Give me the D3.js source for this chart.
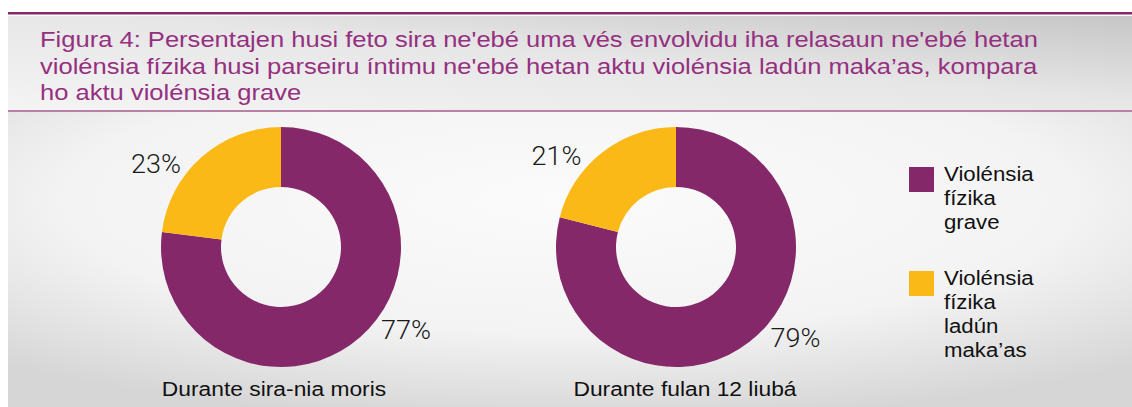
<!DOCTYPE html>
<html>
<head>
<meta charset="utf-8">
<script src="https://cdn.jsdelivr.net/npm/d3@7"></script>
<style>
  body { margin: 0; background: #fff; }
  svg { display: block; font-family: "Liberation Sans", Arial, sans-serif; }
</style>
</head>
<body>
<script>
// data
const categories = ["Violénsia fízika grave", "Violénsia fízika ladún maka’as"];
const legendLines = [["Violénsia", "fízika", "grave"], ["Violénsia", "fízika", "ladún", "maka’as"]];
const periods = ["Durante sira-nia moris", "Durante fulan 12 liubá"];
const lifetimeValues = [77, 23];
const last12Values = [79, 21];
const titleLines = [
  "Figura 4: Persentajen husi feto sira ne'ebé uma vés envolvidu iha relasaun ne'ebé hetan",
  "violénsia fízika husi parseiru íntimu ne'ebé hetan aktu violénsia ladún maka’as, kompara",
  "ho aktu violénsia grave"
];

const w = 1132;
const h = 407;

const colors = d3.scaleOrdinal().domain(categories).range(["#85286a", "#fbb918"]);

const svg = d3.select("body").append("svg").attr("width", w).attr("height", h);

// the original font is wider than Arial, so stretch text a bit
function widen(sel, f) {
  sel.each(function () {
    const len = this.getComputedTextLength();
    d3.select(this).attr("textLength", len * f).attr("lengthAdjust", "spacingAndGlyphs");
  });
}

// gradients
const defs = svg.append("defs");
const hg = defs.append("linearGradient").attr("id", "headGrad")
  .attr("x1", "0%").attr("y1", "100%").attr("x2", "100%").attr("y2", "0%");
hg.append("stop").attr("offset", "0%").attr("stop-color", "#f4f4f4");
hg.append("stop").attr("offset", "55%").attr("stop-color", "#e6e6e6");
hg.append("stop").attr("offset", "100%").attr("stop-color", "#c6c6c6");

const bg = defs.append("radialGradient").attr("id", "bodyGrad")
  .attr("cx", "50%").attr("cy", "30%").attr("r", "75%");
bg.append("stop").attr("offset", "0%").attr("stop-color", "#fbfbfb");
bg.append("stop").attr("offset", "60%").attr("stop-color", "#f3f3f3");
bg.append("stop").attr("offset", "100%").attr("stop-color", "#d6d6d6");

// frame
svg.append("rect").attr("x", 8).attr("y", 12).attr("width", w - 8).attr("height", 2.5).attr("fill", "#85286a");
svg.append("rect").attr("x", 8).attr("y", 16).attr("width", w - 8).attr("height", 94).attr("fill", "url(#headGrad)");
svg.append("rect").attr("x", 8).attr("y", 110).attr("width", w - 8).attr("height", 2).attr("fill", "#b682a6");
svg.append("rect").attr("x", 8).attr("y", 112).attr("width", w - 8).attr("height", h - 112).attr("fill", "url(#bodyGrad)");

// title
svg.append("g").selectAll("text")
  .data(titleLines)
  .join("text")
  .attr("x", 40)
  .attr("y", (d, i) => 47 + i * 26.5)
  .attr("font-size", 22.5)
  .attr("fill", "#953080")
  .text(d => d)
  .call(widen, 1.135);

// donuts
const pie = d3.pie().sort(null).value(d => d);
const arc = d3.arc().innerRadius(60).outerRadius(120);
const centers = [281, 676];
const periodX = [274, 685];
const cy = 247;
const labelOffset = -15 * Math.PI / 180;
const labelR = 150;

[lifetimeValues, last12Values].forEach((vals, k) => {
  const g = svg.append("g").attr("transform", `translate(${centers[k]},${cy})`);
  const slices = pie(vals);
  g.selectAll("path")
    .data(slices)
    .join("path")
    .attr("d", arc)
    .attr("fill", (d, i) => colors(categories[i]));

  g.selectAll("text.val")
    .data(slices)
    .join("text")
    .attr("class", "val")
    .attr("x", d => Math.sin((d.startAngle + d.endAngle) / 2 + labelOffset) * labelR)
    .attr("y", d => -Math.cos((d.startAngle + d.endAngle) / 2 + labelOffset) * labelR + 9)
    .attr("text-anchor", "middle")
    .attr("font-family", "Roboto, sans-serif")
    .attr("font-weight", 300)
    .attr("font-size", 25)
    .attr("fill", "#1a1a1a")
    .text(d => d.data + "%")
    .call(widen, 1.08);

  svg.append("text")
    .attr("x", periodX[k])
    .attr("y", 396)
    .attr("text-anchor", "middle")
    .attr("font-size", 20)
    .attr("fill", "#111")
    .text(periods[k])
    .call(widen, 1.14);
});

// legend
const legendY = [167, 271];
const legend = svg.append("g");
categories.forEach((c, i) => {
  legend.append("rect")
    .attr("x", 909).attr("y", legendY[i])
    .attr("width", 25).attr("height", 25)
    .attr("fill", colors(c));
  legend.append("g")
    .selectAll("text")
    .data(legendLines[i])
    .join("text")
    .attr("x", 944)
    .attr("y", (d, j) => legendY[i] + 14 + j * 24)
    .attr("font-size", 20)
    .attr("fill", "#111")
    .text(d => d)
    .call(widen, 1.11);
});
</script>
</body>
</html>
